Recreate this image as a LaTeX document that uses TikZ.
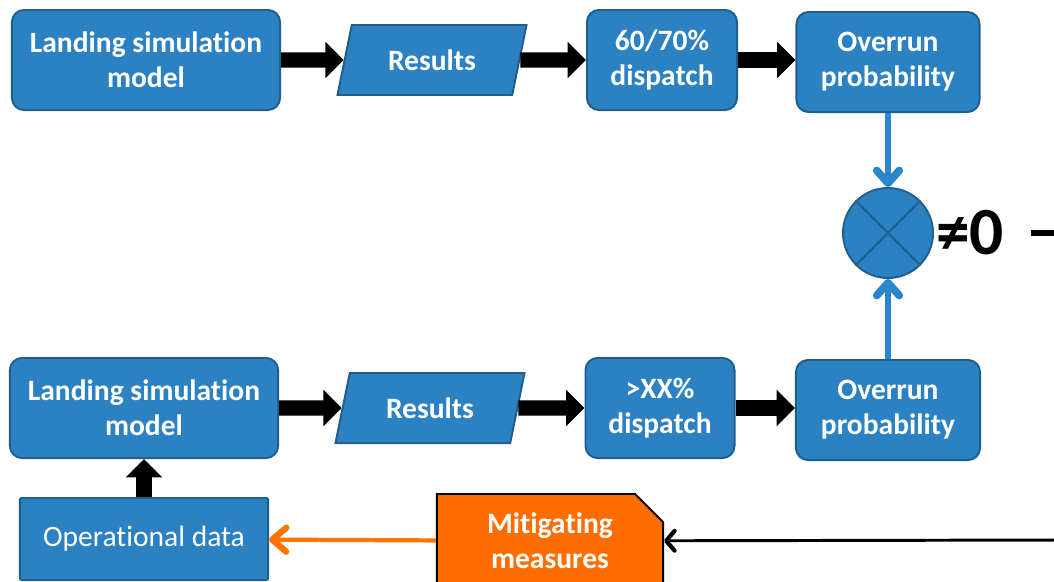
\documentclass[tikz,border=0pt]{standalone}
\usepackage{fontspec}
\setmainfont{Carlito}[Ligatures=NoCommon]
\usetikzlibrary{arrows.meta,shapes.geometric,shapes.misc}
\definecolor{boxblue}{HTML}{2B81C1}
\definecolor{boxedge}{HTML}{1F5F8E}
\definecolor{linkblue}{HTML}{2A86CB}
\definecolor{mitorange}{HTML}{FF6D00}
\definecolor{linkorange}{HTML}{FF7300}
\tikzset{
  procbox/.style={draw=boxedge, line width=1.4pt, fill=boxblue, rounded corners=0.3cm,
    minimum height=2.5cm, text=white, align=center,
    font=\fontsize{21}{25}\selectfont\bfseries},
  resultbox/.style={trapezium, trapezium left angle=74, trapezium right angle=106,
    trapezium stretches=true, draw=boxedge, line width=1.4pt, fill=boxblue,
    minimum width=4.75cm, minimum height=1.75cm, text=white,
    font=\fontsize{21}{25}\selectfont\bfseries},
  blockarrow/.style={line width=10.7pt, -{Triangle[length=13pt,width=25pt]}},
  bluelink/.style={linkblue, line width=3.8pt, -{Straight Barb[length=9pt,width=16pt,line width=5.5pt,round]}},
}

\begin{document}
\begin{tikzpicture}[x=0.025cm, y=-0.025cm]
    \useasboundingbox (0,0) rectangle (1054,581);
    \clip (0,0) rectangle (1054,581);
    % upper chain
    \node [procbox, minimum width=6.7cm] (lsm1) at (146,60) {Landing simulation\\model};
    \node [resultbox] (res1) at (432,60) {Results};
    \node [procbox, minimum width=3.75cm] (disp1) at (662,60) {60/70\%\\dispatch};
    \node [procbox, minimum width=4.575cm] (ovr1) at (888,62) {Overrun\\probability};
    % lower chain
    \node [procbox, minimum width=6.7cm] (lsm2) at (144,408) {Landing simulation\\model};
    \node [resultbox] (res2) at (430,408) {Results};
    \node [procbox, minimum width=3.725cm] (disp2) at (660,408) {>XX\%\\dispatch};
    \node [procbox, minimum width=4.6cm] (ovr2) at (888,410) {Overrun\\probability};
    % comparison
    \node [circle, draw=boxedge, line width=1.4pt, fill=boxblue, minimum size=2.25cm] (cmp) at (888,233) {};
    \draw [boxedge, line width=1.4pt] (cmp.north west) -- (cmp.south east);
    \draw [boxedge, line width=1.4pt] (cmp.north east) -- (cmp.south west);
    \node [anchor=west, inner sep=0pt, font=\fontsize{48}{50}\selectfont\bfseries] (neq) at (936,233) {≠0};
    \coordinate (dashstart) at (1031,233);
    \coordinate (outR) at (1060,233);
    \draw [line width=3.8pt] (dashstart) -- (outR);
    % feedback
    \node [draw=boxedge, line width=1.4pt, fill=boxblue, rounded corners=1pt,
      minimum width=6.2cm, minimum height=2.05cm, text=white,
      font=\fontsize{21}{25}\selectfont] (opdata) at (144,539) {Operational data};
    \node [chamfered rectangle, chamfered rectangle corners=north east,
      chamfered rectangle xsep=0.35cm, chamfered rectangle ysep=0.35cm,
      draw=black, line width=1.4pt, fill=mitorange,
      minimum width=5.65cm, minimum height=2.35cm, text=white, align=center,
      font=\fontsize{21}{25}\selectfont\bfseries] (mit) at (550,541) {Mitigating\\measures};
    \coordinate (inR) at (1060,540);
    % arrows
    \draw [blockarrow] (lsm1) -- (res1);
    \draw [blockarrow] (res1) -- (disp1);
    \draw [blockarrow] (disp1) -- (ovr1.west |- disp1);
    \draw [blockarrow] (lsm2) -- (res2);
    \draw [blockarrow] (res2) -- (disp2);
    \draw [blockarrow] (disp2) -- (ovr2.west |- disp2);
    \draw [blockarrow] (opdata) -- (lsm2);
    \draw [bluelink] (ovr1) -- (cmp);
    \draw [bluelink] (ovr2) -- (cmp);
    \draw [linkorange, line width=3pt, -{Straight Barb[length=10pt,width=17pt,line width=4.5pt,round]}] (mit) -- (opdata);
    \draw [line width=2.1pt, -{Straight Barb[length=6pt,width=14pt,line width=3pt,round]}] (inR) -- (mit);
\end{tikzpicture}
\end{document}
